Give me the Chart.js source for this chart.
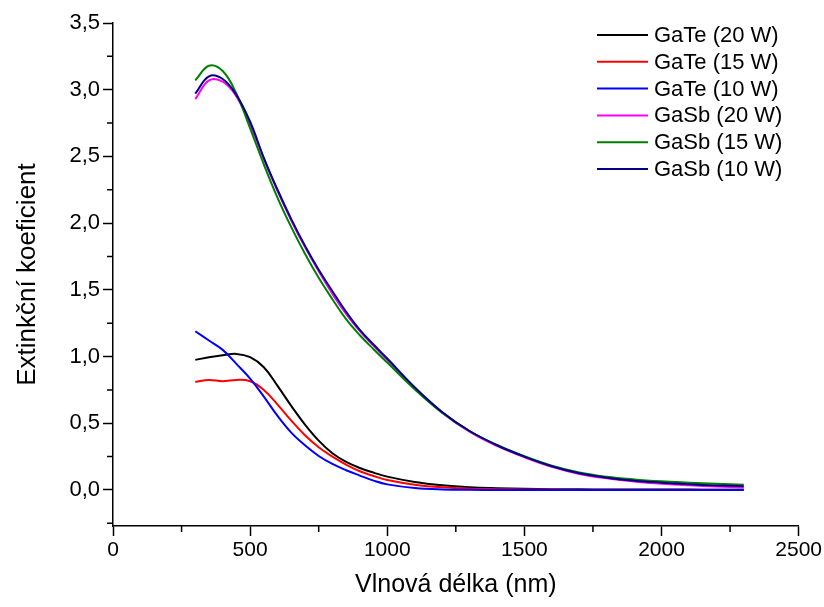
<!DOCTYPE html>
<html>
<head>
<meta charset="utf-8">
<script src="https://cdn.jsdelivr.net/npm/chart.js@4.4.1/dist/chart.umd.min.js"></script>
<style>
  html, body { margin: 0; padding: 0; background: #fff; }
  canvas { display: block; }
</style>
</head>
<body>
<canvas id="extChart" width="824" height="607"></canvas>
<script>
// Wavelength samples (nm)
const wavelength = [300, 350, 400, 450, 500, 550, 600, 650, 700, 750, 800, 850, 900, 950, 1000,
  1100, 1200, 1300, 1400, 1500, 1600, 1700, 1800, 1900, 2000, 2100, 2200, 2300];

// Extinction coefficient
const gaTe20 = [0.975, 0.995, 1.01, 1.02, 0.995, 0.92, 0.78, 0.63, 0.49, 0.37, 0.275, 0.21, 0.165, 0.13, 0.10,
  0.06, 0.035, 0.02, 0.013, 0.009, 0.006, 0.005, 0.004, 0.004, 0.003, 0.003, 0.002, 0.002];
const gaTe15 = [0.81, 0.825, 0.815, 0.825, 0.815, 0.75, 0.64, 0.52, 0.41, 0.32, 0.25, 0.19, 0.14, 0.105, 0.075,
  0.04, 0.02, 0.01, 0.006, 0.004, 0.003, 0.002, 0.002, 0.001, 0.001, 0.001, 0.001, 0.001];
const gaTe10 = [1.19, 1.12, 1.05, 0.945, 0.835, 0.70, 0.555, 0.43, 0.335, 0.255, 0.195, 0.148, 0.108, 0.07, 0.042,
  0.015, 0.004, 0.001, 0, 0, 0, 0, 0, 0, 0, 0, 0, 0];
const gaSb20 = [2.93, 3.07, 3.06, 2.95, 2.74, 2.48, 2.24, 2.02, 1.82, 1.64, 1.47, 1.32, 1.19, 1.08, 0.975,
  0.762, 0.58, 0.437, 0.33, 0.245, 0.173, 0.12, 0.087, 0.064, 0.047, 0.035, 0.026, 0.019];
const gaSb15 = [3.07, 3.18, 3.14, 2.97, 2.71, 2.44, 2.19, 1.97, 1.77, 1.59, 1.43, 1.28, 1.16, 1.055, 0.955,
  0.755, 0.58, 0.442, 0.338, 0.253, 0.182, 0.131, 0.099, 0.079, 0.065, 0.055, 0.046, 0.039];
const gaSb10 = [2.97, 3.10, 3.08, 2.96, 2.76, 2.49, 2.25, 2.03, 1.83, 1.65, 1.49, 1.335, 1.20, 1.09, 0.985,
  0.77, 0.585, 0.442, 0.335, 0.25, 0.178, 0.125, 0.092, 0.07, 0.055, 0.043, 0.034, 0.028];

const seriesLabels = ["GaTe (20 W)", "GaTe (15 W)", "GaTe (10 W)", "GaSb (20 W)", "GaSb (15 W)", "GaSb (10 W)"];
const seriesValues = [gaTe20, gaTe15, gaTe10, gaSb20, gaSb15, gaSb10];
const seriesColors = ["#000000", "#ff0000", "#0000ff", "#ff00ff", "#008000", "#000080"];

// Axis ticks
const xMajorTicks = [0, 500, 1000, 1500, 2000, 2500];
const xMinorTicks = [250, 750, 1250, 1750, 2250];
const yMajorTicks = [0, 0.5, 1.0, 1.5, 2.0, 2.5, 3.0, 3.5];
const yMinorTicks = [-0.25, 0.25, 0.75, 1.25, 1.75, 2.25, 2.75, 3.25];

const FONT = "'Liberation Sans', Arial, Helvetica, sans-serif";

// short outward minor ticks plus the legend in the upper right corner
const extrasPlugin = {
  id: "extras",
  afterDraw(chart) {
    const ctx = chart.ctx;
    const xs = chart.scales.x, ys = chart.scales.y;
    const area = chart.chartArea;
    ctx.save();
    ctx.strokeStyle = "#000";
    ctx.lineWidth = 1.5;
    ctx.beginPath();
    xMinorTicks.forEach(v => {
      const px = xs.getPixelForValue(v);
      ctx.moveTo(px, area.bottom);
      ctx.lineTo(px, area.bottom + 6);
    });
    yMinorTicks.forEach(v => {
      const py = ys.getPixelForValue(v);
      if (py > area.bottom) return;
      ctx.moveTo(area.left, py);
      ctx.lineTo(area.left - 6, py);
    });
    ctx.stroke();

    // legend
    ctx.font = "22px " + FONT;
    ctx.textBaseline = "middle";
    ctx.textAlign = "left";
    chart.data.datasets.forEach((ds, i) => {
      const y = 35 + i * 26.8;
      ctx.strokeStyle = ds.borderColor;
      ctx.lineWidth = 2;
      ctx.beginPath();
      ctx.moveTo(597, y);
      ctx.lineTo(648, y);
      ctx.stroke();
      ctx.fillStyle = "#000";
      ctx.fillText(ds.label, 654, y + 1);
    });
    ctx.restore();
  }
};

const fmt = v => v.toFixed(1).replace(".", ",");

new Chart(document.getElementById("extChart"), {
  type: "line",
  data: {
    datasets: seriesLabels.map((label, i) => ({
      label: label,
      data: wavelength.map((w, j) => ({ x: w, y: seriesValues[i][j] })),
      borderColor: seriesColors[i],
      backgroundColor: seriesColors[i],
      borderWidth: 2,
      pointRadius: 0,
      tension: 0.4,
      order: seriesLabels.length - i
    }))
  },
  options: {
    responsive: false,
    animation: false,
    layout: { padding: { top: 23, right: 24, left: 0, bottom: 0 } },
    plugins: { legend: { display: false }, tooltip: { enabled: false } },
    scales: {
      x: {
        type: "linear",
        min: 0,
        max: 2500,
        afterBuildTicks: s => { s.ticks = xMajorTicks.map(v => ({ value: v })); },
        afterFit: s => { s.height = 81; },
        border: { color: "#000", width: 1.5 },
        grid: { drawOnChartArea: false, color: "#000", tickLength: 10, tickWidth: 1.5 },
        ticks: { color: "#000", font: { family: FONT, size: 21 }, padding: 2, maxRotation: 0, autoSkip: false, callback: v => String(v) },
        title: { display: true, text: "Vlnová délka (nm)", color: "#000", font: { family: FONT, size: 25 }, padding: { top: 0, bottom: 7 } }
      },
      y: {
        type: "linear",
        min: -0.27,
        max: 3.5,
        afterBuildTicks: s => { s.ticks = yMajorTicks.map(v => ({ value: v })); },
        afterFit: s => { s.width = 113; },
        border: { color: "#000", width: 1.5 },
        grid: { drawOnChartArea: false, color: "#000", tickLength: 10, tickWidth: 1.5 },
        ticks: { color: "#000", font: { family: FONT, size: 22 }, padding: 3, callback: v => fmt(v) },
        title: { display: true, text: "Extinkční koeficient", color: "#000", font: { family: FONT, size: 26 }, padding: { top: 12, bottom: 0 } }
      }
    }
  },
  plugins: [extrasPlugin]
});
</script>
</body>
</html>
